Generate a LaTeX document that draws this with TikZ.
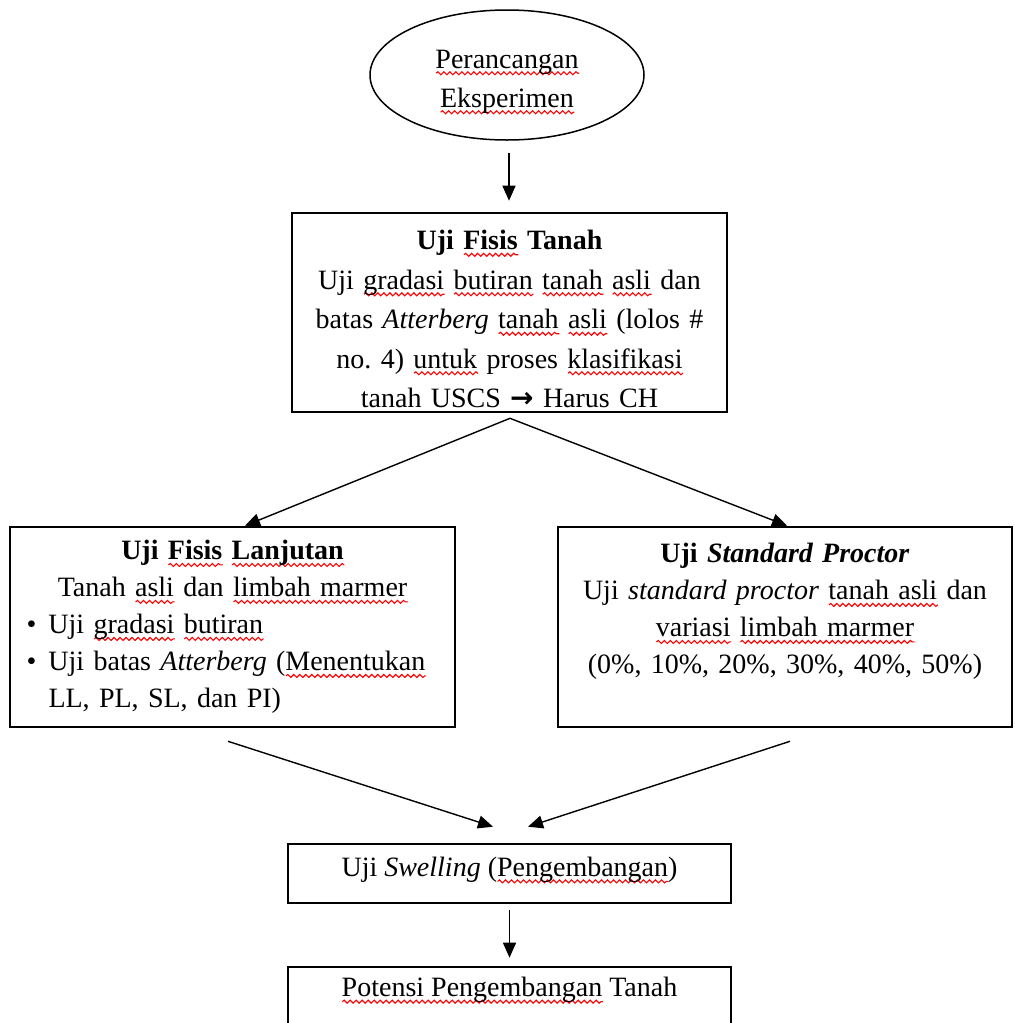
\documentclass[tikz,border=0pt]{standalone}
\usepackage{fontspec}
\setmainfont{Liberation Serif}
\newfontfamily\djv{DejaVu Sans}
\usepackage{xcolor}
\usetikzlibrary{shapes.geometric,arrows.meta,decorations.pathmorphing}
\newsavebox\sqbox
\newcommand\sqg[1]{\leavevmode\sbox\sqbox{#1}\rlap{\smash{\tikz[baseline=0pt,x=1pt,y=1pt]\draw[red,line width=0.55pt,decorate,decoration={snake,amplitude=0.75pt,segment length=3pt}] (0pt,-2.6pt)--(\wd\sqbox,-2.6pt);}}\usebox\sqbox}
\begin{document}
\begin{tikzpicture}[x=0.5pt,y=-0.5pt,
  every node/.style={font=\fontsize{14}{19.25}\selectfont, inner sep=0pt},
  box/.style={draw, line width=1.3pt, rectangle},
  arr/.style={-{Triangle[length=7.5pt,width=6.5pt]}, line width=0.7pt}]
\clip (0,0) rectangle (1014,1023);
\node[draw, ellipse, line width=0.75pt, minimum width=137pt, minimum height=65pt,
      align=center, font=\fontsize{14}{19.5}\selectfont] (ell) at (507,75)
  {\rule{0pt}{15.5pt}\sqg{Perancangan}\\\sqg{Eksperimen}};
\node[box, minimum width=217.5pt, minimum height=99.5pt, text width=205pt, align=center,
      font=\fontsize{14}{19.75}\selectfont] (b1) at (509.5,312.5)
  {\rule{0pt}{16.2pt}\textbf{Uji \sqg{Fisis} Tanah}\\
   Uji \sqg{gradasi} \sqg{butiran} \sqg{tanah} \sqg{asli} dan\\
   batas \textit{Atterberg} \sqg{tanah} \sqg{asli} (lolos \#\\
   no.\ 4) \sqg{untuk} proses \sqg{klasifikasi}\\
   tanah USCS {\djv\bfseries →} Harus CH};
\node[box, minimum width=222.5pt, minimum height=100pt, text width=206pt,
      font=\fontsize{14}{18.5}\selectfont] (b2) at (232.5,627)
  {\centering\textbf{Uji \sqg{Fisis} \sqg{Lanjutan}}\\
   Tanah \sqg{asli} dan \sqg{limbah marmer}\par
   \raggedright
   \makebox[11pt][l]{\textbullet}Uji \sqg{gradasi} \sqg{butiran}\\
   \makebox[11pt][l]{\textbullet}Uji batas \textit{Atterberg} (\sqg{Menentukan}\\
   \hspace*{11pt}LL, PL, SL, dan PI)\par};
\node[box, minimum width=227pt, minimum height=100pt, text width=215pt, align=center,
      font=\fontsize{14}{18.5}\selectfont] (b3) at (785,627)
  {\textbf{Uji \textit{Standard Proctor}}\\
   Uji \textit{standard proctor} \sqg{tanah asli} dan\\
   \sqg{variasi} \sqg{limbah marmer}\\
   (0\%, 10\%, 20\%, 30\%, 40\%, 50\%)\\ \mbox{}};
\node[box, minimum width=221.5pt, minimum height=29.5pt] (sw) at (509.5,873.5)
  {\rule[-7pt]{0pt}{7pt}Uji \textit{Swelling} (\sqg{Pengembangan})};
\node[box, minimum width=221.5pt, minimum height=35pt, align=center] (pot) at (509.5,1002)
  {\sqg{Potensi Pengembangan} Tanah\\[-4pt] \mbox{}};
\draw[arr] ([shift={(2,12)}]ell.south) -- ([shift={(-0.5,-11)}]b1.north);
\draw[arr] ([shift={(0.5,5)}]b1.south) -- ([shift={(12.5,0)}]b2.north);
\draw[arr] ([shift={(0.5,5)}]b1.south) -- ([shift={(2,0)}]b3.north);
\draw[arr] ([shift={(-4.5,13)}]b2.south) -- ([shift={(-16.5,-16)}]sw.north);
\draw[arr] ([shift={(5,13)}]b3.south) -- ([shift={(18.5,-16)}]sw.north);
\draw[arr] ([shift={(0,6)}]sw.south) -- ([shift={(0,-8)}]pot.north);
\end{tikzpicture}
\end{document}
